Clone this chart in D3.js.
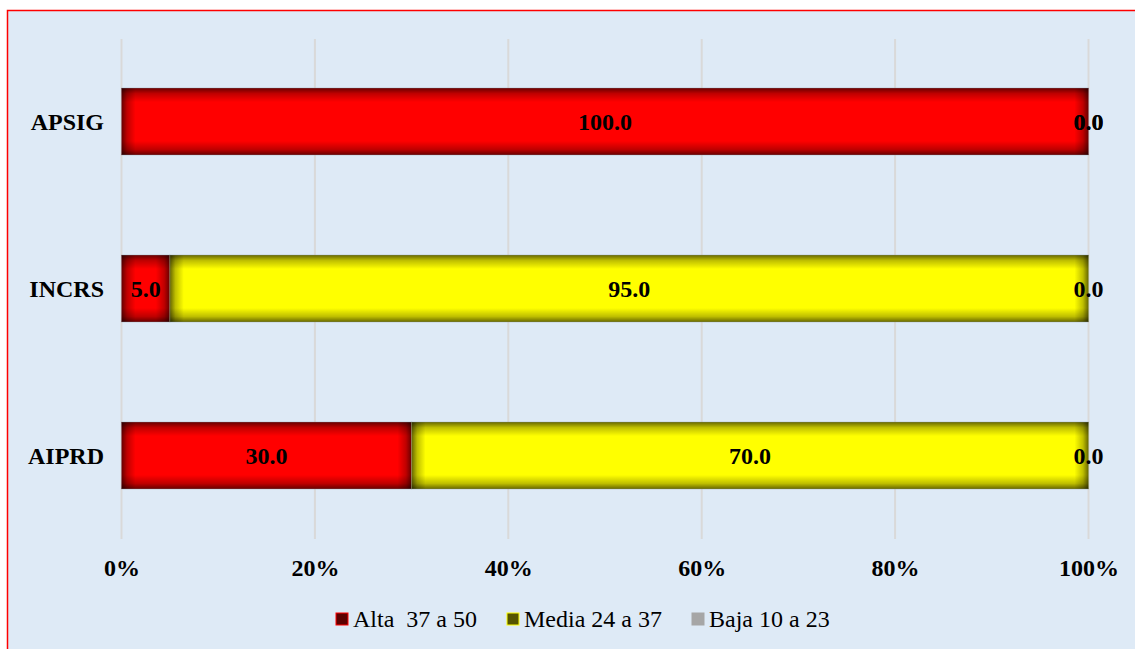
<!DOCTYPE html>
<html>
<head>
<meta charset="utf-8">
<script src="https://cdn.jsdelivr.net/npm/d3@7"></script>
<style>
  body { margin: 0; background: #ffffff; }
  svg { display: block; }
</style>
</head>
<body>
<div class="chart-area"></div>
<script>
// data
const categories = ["APSIG", "INCRS", "AIPRD"];
const seriesNames = ["Alta  37 a 50", "Media 24 a 37", "Baja 10 a 23"];
const alta = [100.0, 5.0, 30.0];
const media = [0.0, 95.0, 70.0];
const baja = [0.0, 0.0, 0.0];
const tickValues = [0, 20, 40, 60, 80, 100];

const fills = ["#ff0000", "#ffff00", "#a6a6a6"];
const swatchFill = ["#5c0000", "#555500", "#a6a6a6"];
const swatchStroke = ["#ff0000", "#ffff00", "#a6a6a6"];

const width = 1135, height = 649;

const svg = d3.select(".chart-area").append("svg")
  .attr("width", width)
  .attr("height", height);

// shading gradients (fake inner shadow on the bar edges)
const defs = svg.append("defs");
const dirs = {
  toRight: [0, 0, 1, 0],
  toLeft: [1, 0, 0, 0],
  toBottom: [0, 0, 0, 1],
  toTop: [0, 1, 0, 0]
};
Object.entries(dirs).forEach(([id, v]) => {
  const g = defs.append("linearGradient").attr("id", id)
    .attr("x1", v[0]).attr("y1", v[1]).attr("x2", v[2]).attr("y2", v[3]);
  g.append("stop").attr("offset", 0).attr("stop-color", "#000").attr("stop-opacity", 0.6);
  g.append("stop").attr("offset", 0.4).attr("stop-color", "#000").attr("stop-opacity", 0.25);
  g.append("stop").attr("offset", 1).attr("stop-color", "#000").attr("stop-opacity", 0);
});

// background + border
svg.append("rect").attr("width", width).attr("height", height).attr("fill", "#ffffff");
svg.append("rect")
  .attr("x", 7.5).attr("y", 10.5)
  .attr("width", width + 10).attr("height", height + 10)
  .attr("fill", "#deeaf6")
  .attr("stroke", "#ff0000")
  .attr("stroke-width", 1.5);

const x = d3.scaleLinear().domain([0, 100]).range([121.5, 1088.5]);
const y = d3.scaleBand().domain(categories).range([38, 539]).paddingInner(0.6).paddingOuter(0.3);

// gridlines
svg.append("g")
  .selectAll("line")
  .data(tickValues)
  .join("line")
  .attr("x1", d => x(d)).attr("x2", d => x(d))
  .attr("y1", 39).attr("y2", 539)
  .attr("stroke", "#d9d9d9")
  .attr("stroke-width", 2);

// stacked data
const rows = categories.map((c, i) => ({ cat: c, a: alta[i], m: media[i], b: baja[i] }));
const stack = d3.stack().keys(["a", "m", "b"])(rows);

const barH = 67;
const edge = 14;
const yc = c => y(c) + y.bandwidth() / 2;

const segs = svg.append("g").selectAll("g")
  .data(stack)
  .join("g")
  .selectAll("g")
  .data((d, i) => d.map(s => ({ s, i })).filter(o => o.s[1] - o.s[0] > 0))
  .join("g")
  .attr("transform", d => `translate(${x(d.s[0])},${yc(d.s.data.cat) - barH / 2})`);

segs.each(function(d) {
  const g = d3.select(this);
  const w = x(d.s[1]) - x(d.s[0]);
  const ew = Math.min(edge, w / 2);
  g.append("rect").attr("width", w).attr("height", barH).attr("fill", fills[d.i]);
  g.append("rect").attr("width", w).attr("height", edge).attr("fill", "url(#toBottom)");
  g.append("rect").attr("y", barH - edge).attr("width", w).attr("height", edge).attr("fill", "url(#toTop)");
  g.append("rect").attr("width", ew).attr("height", barH).attr("fill", "url(#toRight)");
  g.append("rect").attr("x", w - ew).attr("width", ew).attr("height", barH).attr("fill", "url(#toLeft)");
  g.append("rect").attr("width", w).attr("height", barH)
    .attr("fill", "none").attr("stroke", "#8a9aa8").attr("stroke-opacity", 0.35).attr("stroke-width", 1);
});

// value labels
const labelFont = "'Liberation Serif', 'Times New Roman', serif";
stack.forEach(layer => {
  svg.append("g").selectAll("text")
    .data(layer)
    .join("text")
    .attr("x", d => (x(d[0]) + x(d[1])) / 2)
    .attr("y", d => yc(d.data.cat))
    .attr("dy", "0.35em")
    .attr("text-anchor", "middle")
    .attr("font-family", labelFont)
    .attr("font-weight", "bold")
    .attr("font-size", 24)
    .attr("fill", "#000")
    .text(d => (d[1] - d[0]).toFixed(1));
});

// category labels
svg.append("g").selectAll("text")
  .data(categories)
  .join("text")
  .attr("x", 104)
  .attr("y", d => yc(d))
  .attr("dy", "0.35em")
  .attr("text-anchor", "end")
  .attr("font-family", labelFont)
  .attr("font-weight", "bold")
  .attr("font-size", 24)
  .text(d => d);

// x axis tick labels
const xAxis = d3.axisBottom(x).tickValues(tickValues).tickFormat(d => d + "%").tickSize(0).tickPadding(0);
const gx = svg.append("g").attr("transform", "translate(0,559)").call(xAxis);
gx.select(".domain").remove();
gx.selectAll("text")
  .attr("font-family", labelFont)
  .attr("font-weight", "bold")
  .attr("font-size", 24)
  .attr("fill", "#000");

// legend
const legendX = [336, 507, 692];
const lg = svg.append("g").selectAll("g")
  .data(seriesNames)
  .join("g")
  .attr("transform", (d, i) => `translate(${legendX[i]},619)`);
lg.append("rect")
  .attr("x", 0).attr("y", -6)
  .attr("width", 12).attr("height", 12)
  .attr("fill", (d, i) => swatchFill[i])
  .attr("stroke", (d, i) => swatchStroke[i])
  .attr("stroke-width", 1);
lg.append("text")
  .attr("x", 17)
  .attr("y", 0)
  .attr("dy", "0.35em")
  .attr("font-family", labelFont)
  .attr("font-size", 24)
  .style("white-space", "pre")
  .text(d => d);
</script>
</body>
</html>
